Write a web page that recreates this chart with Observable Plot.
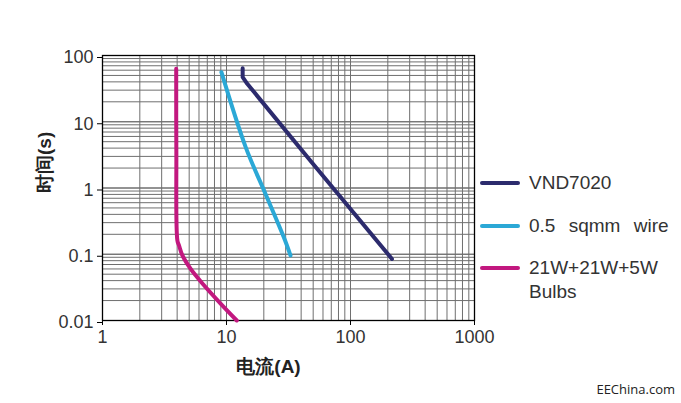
<!DOCTYPE html>
<html><head><meta charset="utf-8">
<script src="https://cdn.jsdelivr.net/npm/d3@7"></script>
<script src="https://cdn.jsdelivr.net/npm/@observablehq/plot@0.6"></script>
<style>
body{margin:0;background:#fff;}
#wrap{position:relative;width:681px;height:403px;font-family:"Liberation Sans",Arial,sans-serif;}
.leg{position:absolute;left:480px;}
.sw{position:absolute;left:0;width:40px;height:4px;border-radius:2px;}
.lt{position:absolute;left:49px;font-size:19px;color:#333;white-space:nowrap;line-height:23.5px;}
#wm{position:absolute;right:6px;top:380px;white-space:nowrap;font-family:"Open Sans","Liberation Sans",sans-serif;font-size:13px;color:#222;}
</style></head>
<body><div id="wrap"></div>
<script>
// VND7020
const vndCurrent = [13.5, 13.5, 14.7, 49, 216];
const vndTime = [64, 47, 37.4, 2.4, 0.085];
// 0.5 sqmm wire
const wireCurrent = [9.1, 14.3, 20.6, 29.0, 32.8];
const wireTime = [56, 4.1, 0.82, 0.18, 0.096];
// 21W+21W+5W Bulbs
const bulbCurrent = [3.93, 3.94, 4.02, 4.14, 4.41, 5.14, 6.58, 8.96, 12.1];
const bulbTime = [63, 3.7, 0.16, 0.136, 0.096, 0.060, 0.034, 0.018, 0.01];

const seriesNames = ["VND7020", "0.5 sqmm wire", "21W+21W+5W Bulbs"];
const seriesColors = ["#2c2b6d", "#2ba8d6", "#c2187f"];
const xTicks = [1, 10, 100, 1000];
const yTicks = [0.01, 0.1, 1, 10, 100];
const xLabel = "电流(A)";
const yLabel = "时间(s)";

const gridX = [], gridY = [];
for (const d of [1, 10, 100]) for (let k = 1; k <= 10; k++) gridX.push(d * k);
for (const d of [0.01, 0.1, 1, 10]) for (let k = 1; k <= 10; k++) gridY.push(d * k);

function rows(xs, ys, s) { return xs.map((x, i) => ({x, y: ys[i], s})); }
const vndData = rows(vndCurrent, vndTime, seriesNames[0]);
const wireData = rows(wireCurrent, wireTime, seriesNames[1]);
const bulbData = rows(bulbCurrent, bulbTime, seriesNames[2]);

const chart = Plot.plot({
  width: 681, height: 403,
  marginLeft: 102, marginRight: 207, marginTop: 55, marginBottom: 83,
  style: {fontFamily: "'Liberation Sans', Arial, sans-serif", background: "#fff"},
  x: {type: "log", domain: [1, 1000]},
  y: {type: "log", domain: [0.01, 100]},
  color: {domain: seriesNames, range: seriesColors},
  marks: [
    Plot.ruleX(gridX, {stroke: "#6f6f6f", strokeWidth: 1}),
    Plot.ruleY(gridY, {stroke: "#6f6f6f", strokeWidth: 1}),
    Plot.frame({stroke: "#000", strokeWidth: 1.3}),
    Plot.axisX({ticks: xTicks, tickFormat: d => String(d), tickSize: 5, tickPadding: 5, fontSize: 18, fill: "#333", stroke: "#000", label: null}),
    Plot.axisY({ticks: yTicks, tickFormat: d => String(d), tickSize: 5, tickPadding: 4, fontSize: 18, fill: "#333", stroke: "#000", label: null, dy: 2}),
    Plot.line(vndData, {x: "x", y: "y", stroke: "s", strokeWidth: 4, curve: "linear", strokeLinejoin: "round"}),
    Plot.line(wireData, {x: "x", y: "y", stroke: "s", strokeWidth: 4, curve: "catmull-rom"}),
    Plot.line(bulbData, {x: "x", y: "y", stroke: "s", strokeWidth: 4, curve: "catmull-rom"}),
    Plot.text([xLabel], {frameAnchor: "bottom", dx: -20, dy: 52, fontSize: 19, fill: "#222", fontWeight: "bold"}),
    Plot.text([yLabel], {frameAnchor: "left", rotate: -90, dx: -58, dy: 5, fontSize: 19, fill: "#222", fontWeight: "bold"})
  ]
});
const wrap = document.getElementById("wrap");
wrap.appendChild(chart);

const legTops = [183, 226, 268];
const legLabels = [["VND7020"], ["0.5 sqmm wire"], ["21W+21W+5W", "Bulbs"]];
seriesNames.forEach((n, i) => {
  const g = document.createElement("div");
  g.className = "leg";
  g.style.top = legTops[i] + "px";
  const sw = document.createElement("div");
  sw.className = "sw"; sw.style.background = seriesColors[i]; sw.style.top = "-2px";
  const t = document.createElement("div");
  t.className = "lt"; t.style.top = "-12px";
  if (i === 1) t.style.wordSpacing = "8px";
  t.innerHTML = legLabels[i].join("<br>");
  g.appendChild(sw); g.appendChild(t);
  wrap.appendChild(g);
});
const wm = document.createElement("div");
wm.id = "wm"; wm.textContent = "EEChina.com";
wrap.appendChild(wm);
</script>
</body></html>
